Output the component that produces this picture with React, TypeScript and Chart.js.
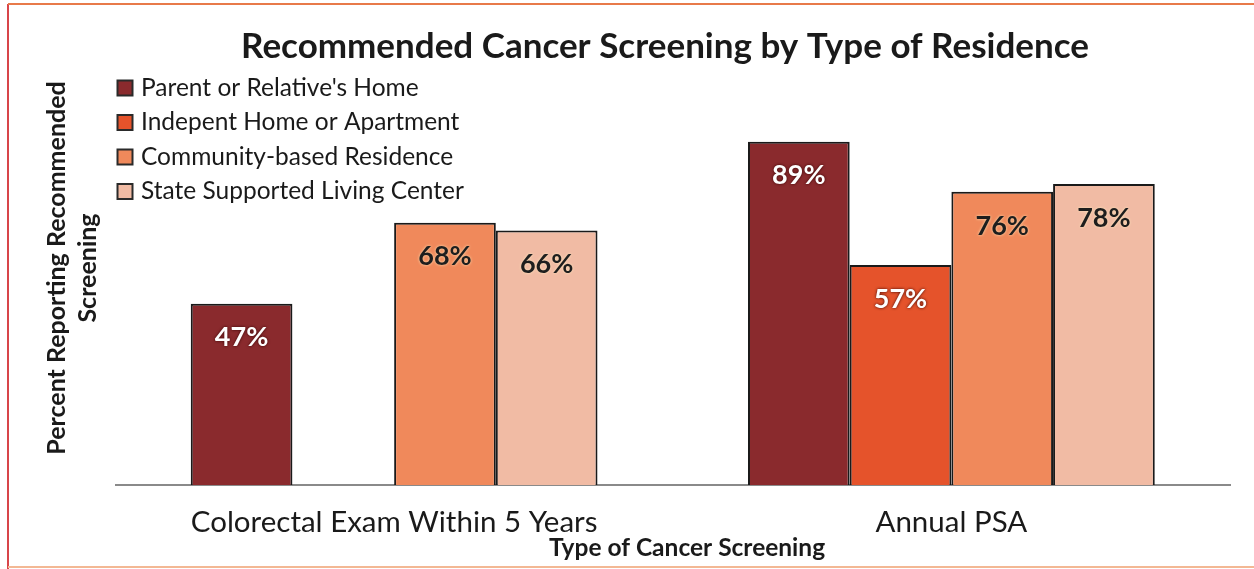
import React, { useEffect, useRef } from "react";
import { Chart, registerables } from "chart.js";

Chart.register(...registerables);

const categories = ["Colorectal Exam Within 5 Years", "Annual PSA"];
const seriesNames = [
  "Parent or Relative's Home",
  "Indepent Home or Apartment",
  "Community-based Residence",
  "State Supported Living Center",
];
const parentHome = [47, 89];
const independentHome = [null, 57];
const communityResidence = [68, 76];
const stateLivingCenter = [66, 78];
const seriesColors = ["#8A2A2D", "#E5532B", "#F0895B", "#F1BBA4"];
const labelColors = ["#FFFFFF", "#FFFFFF", "#1E1E1E", "#1E1E1E"];
const chartTitle = "Recommended Cancer Screening by Type of Residence";
const yTitle = ["Percent Reporting Recommended", "Screening"];
const xTitle = "Type of Cancer Screening";

const FONT = "Lato, 'Open Sans', sans-serif";

const overlayPlugin = {
  id: "overlay",
  afterDatasetsDraw(chart: any) {
    const ctx = chart.ctx;
    ctx.save();
    chart.data.datasets.forEach((ds: any, i: number) => {
      const meta = chart.getDatasetMeta(i);
      meta.data.forEach((bar: any, j: number) => {
        const v = ds.data[j];
        if (v === null || v === undefined) return;
        ctx.font = `bold 27px ${FONT}`;
        ctx.textAlign = "center";
        ctx.textBaseline = "middle";
        if (labelColors[i] === "#FFFFFF") {
          ctx.shadowColor = "rgba(50,0,0,0.95)";
          ctx.shadowBlur = 3;
        } else {
          ctx.shadowColor = "rgba(255,235,190,0.9)";
          ctx.shadowBlur = 3;
        }
        ctx.fillStyle = labelColors[i];
        ctx.fillText(`${v}%`, bar.x, bar.y + 34);
        ctx.shadowBlur = 0;
        ctx.shadowColor = "transparent";
      });
    });
    ctx.restore();
  },
  afterDraw(chart: any) {
    const ctx = chart.ctx;
    ctx.save();
    // title
    ctx.font = `bold 35px ${FONT}`;
    ctx.fillStyle = "#1A1A1A";
    ctx.textAlign = "center";
    ctx.textBaseline = "middle";
    ctx.fillText(chartTitle, 665, 47);
    // x axis title
    ctx.font = `bold 24.5px ${FONT}`;
    ctx.fillText(xTitle, 687, 548);
    // legend
    seriesNames.forEach((name, i) => {
      const cy = 88 + i * 34.5;
      ctx.fillStyle = seriesColors[i];
      ctx.fillRect(117.5, cy - 7.5, 15, 15);
      ctx.strokeStyle = "#2A2A2A";
      ctx.lineWidth = 2;
      ctx.strokeRect(117.5, cy - 7.5, 15, 15);
      ctx.font = `24.5px ${FONT}`;
      ctx.fillStyle = "#1A1A1A";
      ctx.textAlign = "left";
      ctx.textBaseline = "middle";
      ctx.fillText(name, 141, cy);
    });
    // frame edges
    ctx.lineWidth = 2;
    ctx.strokeStyle = "#D8454A";
    ctx.beginPath();
    ctx.moveTo(8, 4);
    ctx.lineTo(8, 569);
    ctx.stroke();
    ctx.strokeStyle = "#E87A4A";
    ctx.beginPath();
    ctx.moveTo(8, 4);
    ctx.lineTo(1254, 4);
    ctx.stroke();
    ctx.strokeStyle = "#F3B894";
    ctx.beginPath();
    ctx.moveTo(8, 567);
    ctx.lineTo(1254, 567);
    ctx.stroke();
    ctx.restore();
  },
};

export default function App() {
  const ref = useRef<HTMLCanvasElement | null>(null);
  useEffect(() => {
    if (!ref.current) return;
    const data = [parentHome, independentHome, communityResidence, stateLivingCenter];
    const chart = new Chart(ref.current, {
      type: "bar",
      data: {
        labels: categories,
        datasets: seriesNames.map((name, i) => ({
          label: name,
          data: data[i] as any,
          backgroundColor: seriesColors[i],
          borderColor: "#1A1A1A",
          borderWidth: 2,
          borderSkipped: "bottom" as any,
          categoryPercentage: 0.73,
          barPercentage: 1,
        })),
      },
      options: {
        animation: false,
        responsive: true,
        maintainAspectRatio: false,
        layout: { padding: { left: 10, right: 24, top: 51, bottom: 4 } },
        plugins: {
          legend: { display: false },
          title: { display: false },
          tooltip: { enabled: false },
        },
        scales: {
          x: {
            grid: { display: false, drawTicks: false },
            border: { display: true, color: "#8A8A8A", width: 2 },
            ticks: {
              padding: 20,
              color: "#1A1A1A",
              font: { family: FONT, size: 29.5 },
            },
            afterFit: (s: any) => {
              s.height = 80;
            },
          },
          y: {
            min: 0,
            max: 112.5,
            grid: { display: false, drawTicks: false },
            border: { display: false },
            ticks: { display: false },
            title: {
              display: true,
              text: yTitle,
              color: "#1A1A1A",
              font: { family: FONT, size: 25, weight: "bold", lineHeight: 1.24 },
              padding: { top: 31.5, bottom: 12 },
            },
            afterFit: (s: any) => {
              s.width = 105.5;
            },
          },
        },
      },
      plugins: [overlayPlugin],
    });
    return () => chart.destroy();
  }, []);
  return (
    <div style={{ position: "absolute", left: 0, top: 0, width: 1254, height: 569, background: "#FFFFFF" }}>
      <canvas ref={ref} />
    </div>
  );
}
